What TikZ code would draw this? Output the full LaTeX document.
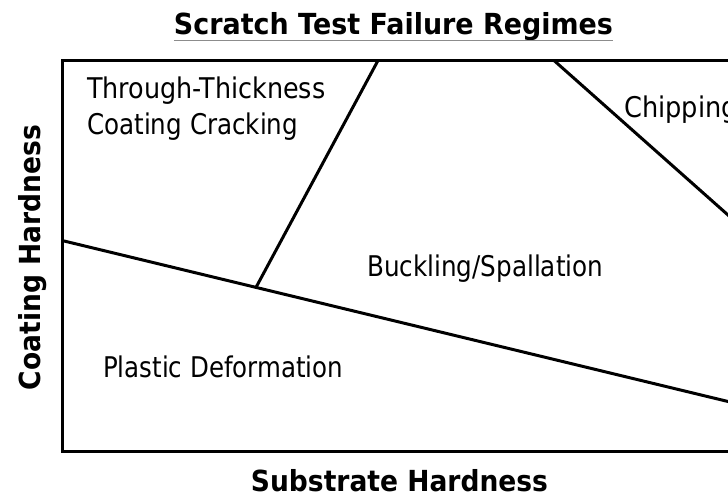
\documentclass[tikz,border=0pt]{standalone}
\usepackage{fontspec}
\usepackage{graphicx}
\setmainfont{DejaVu Sans}
\begin{document}
\begin{tikzpicture}[x=1pt,y=-1pt,
  lbl/.style={inner sep=0pt,font=\fontsize{28.5}{30}\selectfont},
  blbl/.style={inner sep=0pt,font=\fontsize{29}{30}\selectfont\bfseries},
  edge/.style={line width=3pt}]
\useasboundingbox (0,0) rectangle (728,495);
\clip (0,0) rectangle (728,495);
% frame corners
\coordinate (tl) at (62,60.5);
\coordinate (bl) at (62,451.5);
\coordinate (tr) at (745,60.5);
\coordinate (br) at (745,451.5);
\draw[edge,line cap=rect] (tr) -- (tl) -- (bl) -- (br);
% boundaries
\coordinate (a1) at (62,240.5);
\coordinate (a2) at (745,405.6);
\draw[edge] (a1) -- (a2);
\coordinate (b1) at (256,287.4);
\coordinate (b2) at (378,60.5);
\draw[edge] (b1) -- (b2);
\coordinate (c1) at (554,60.5);
\coordinate (c2) at (745,230.1);
\draw[edge] (c1) -- (c2);
% title
\node[blbl,anchor=base] (title) at (393.5,35) {\resizebox{439pt}{\height}{Scratch Test Failure Regimes}};
\draw[line width=1.5pt,black!45] (title.south west |- 0,40.5) coordinate (u1) -- (title.south east |- 0,40.5) coordinate (u2);
% labels
\node[lbl,anchor=base west] (ttc1) at (87,99) {\resizebox{238pt}{\height}{Through-Thickness}};
\node[lbl,anchor=base west] (ttc2) at (87,134) {\resizebox{211pt}{\height}{Coating Cracking}};
\node[lbl,anchor=base west] (buck) at (367,276) {\resizebox{236pt}{\height}{Buckling/Spallation}};
\node[lbl,anchor=base west] (plast) at (103,377) {\resizebox{240pt}{\height}{Plastic Deformation}};
\node[lbl,anchor=base west] (chip) at (624,117) {\scalebox{0.9}[1]{Chipping}};
\node[blbl,anchor=base] (xlab) at (399.5,491) {\resizebox{297pt}{\height}{Substrate Hardness}};
\node[blbl,anchor=base,rotate=90] (ylab) at (40,257.5) {\resizebox{265pt}{\height}{Coating Hardness}};
\end{tikzpicture}
\end{document}
